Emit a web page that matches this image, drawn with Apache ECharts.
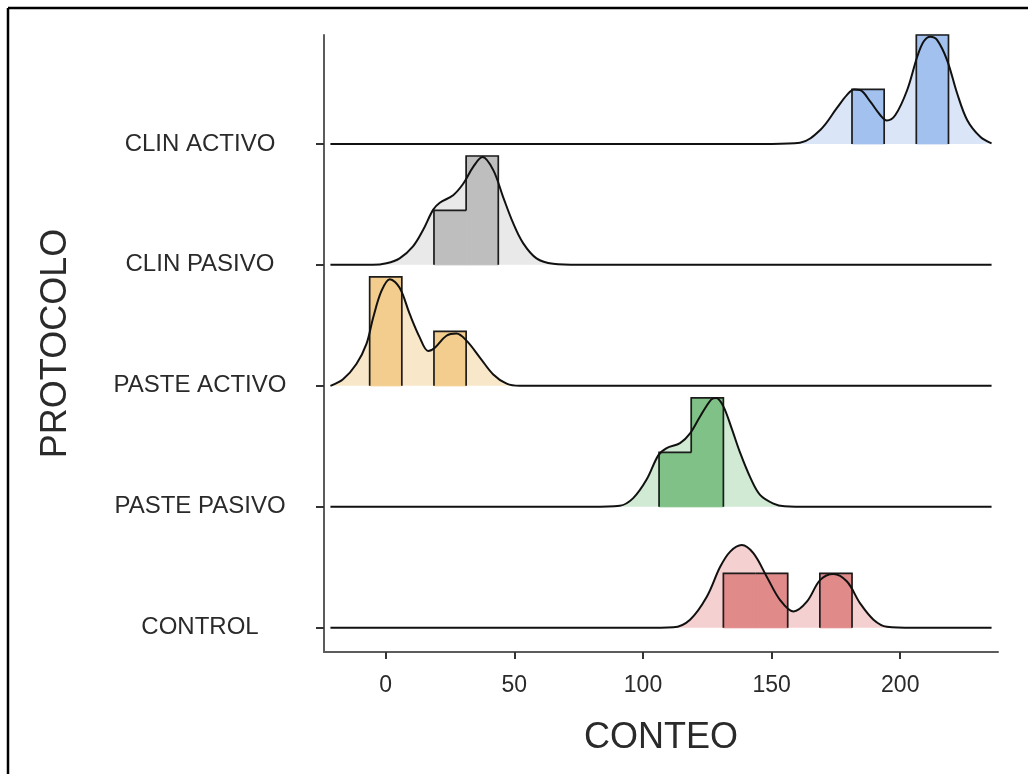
<!DOCTYPE html>
<html><head><meta charset="utf-8">
<script src="https://cdn.jsdelivr.net/npm/echarts@6/dist/echarts.min.js"></script>
<style>html,body{margin:0;padding:0;background:#fff}#c{width:1036px;height:774px}</style>
</head><body><div id="c"></div>
<script>
// ---- data ----
const categories = ['CONTROL', 'PASTE PASIVO', 'PASTE ACTIVO', 'CLIN PASIVO', 'CLIN ACTIVO'];
const xTicks = [0, 50, 100, 150, 200];
const yTicks = [0, 1, 2, 3, 4];

// histogram bins: [start, end, count]
const binsControl = [[131.25, 143.75, 1], [143.75, 156.25, 1], [168.75, 181.25, 1]];
const binsPastePasivo = [[106.25, 118.75, 1], [118.75, 131.25, 2]];
const binsPasteActivo = [[-6.25, 6.25, 2], [18.75, 31.25, 1]];
const binsClinPasivo = [[18.75, 31.25, 1], [31.25, 43.75, 2]];
const binsClinActivo = [[181.25, 193.75, 1], [206.25, 218.75, 2]];

// density curves: [x, height in count units]
const densControl = [[-21.5, 0], [100, 0], [111.8, 0.01], [118.3, 0.15], [124.8, 0.57], [130, 1.12], [133.9, 1.4], [138.4, 1.52], [142.9, 1.37], [148.1, 0.94], [153.3, 0.51], [158.5, 0.3], [163.7, 0.48], [168.9, 0.88], [174, 0.99], [179.3, 0.85], [184.4, 0.45], [189.6, 0.15], [194.8, 0.02], [205, 0], [235.5, 0]];
const densPastePasivo = [[-21.5, 0], [80, 0], [91, 0.02], [96.2, 0.16], [101.4, 0.5], [106, 0.95], [109.2, 1.08], [114.4, 1.17], [118.3, 1.35], [122.2, 1.66], [126.5, 1.97], [128.5, 2.0], [131.2, 1.85], [134.4, 1.45], [137.7, 1.0], [141.6, 0.55], [145.5, 0.22], [150.7, 0.06], [155, 0.01], [165, 0], [235.5, 0]];
const densPasteActivo = [[-21.5, 0], [-16.6, 0.12], [-11.4, 0.4], [-7.5, 0.77], [-4.9, 1.25], [-1.7, 1.74], [1.6, 1.96], [5.4, 1.8], [9.3, 1.32], [13.2, 0.89], [16.5, 0.64], [19.1, 0.7], [23.6, 0.92], [27.5, 0.96], [31.4, 0.83], [36.6, 0.52], [41.8, 0.21], [47, 0.04], [52, 0], [235.5, 0]];
const densClinPasivo = [[-21.5, 0], [-5, 0], [0.3, 0.03], [5.4, 0.12], [10.6, 0.34], [14.5, 0.64], [18.4, 1.01], [21, 1.14], [26.2, 1.28], [30.1, 1.49], [34, 1.8], [37.6, 1.98], [41.8, 1.74], [45.6, 1.25], [49.5, 0.77], [53.4, 0.4], [58.6, 0.12], [65.1, 0.02], [75, 0], [235.5, 0]];
const densClinActivo = [[-21.5, 0], [150, 0], [161, 0.02], [169, 0.26], [175.4, 0.66], [179.3, 0.9], [182, 1.0], [184.4, 0.99], [188.3, 0.78], [192.2, 0.53], [194.8, 0.43], [198.1, 0.53], [202.7, 0.99], [206.6, 1.6], [209.1, 1.88], [211.7, 1.97], [214.3, 1.91], [218.2, 1.54], [222.1, 0.93], [226, 0.44], [231.1, 0.13], [235.5, 0.01]];

const barColors = ['#e08a8a', '#80c187', '#f2cd8e', '#bebebe', '#a3c1ef'];
const areaColors = ['#f5d0d0', '#d1ead3', '#f9e7c9', '#e9e9e9', '#dae6f8'];

// ---- chart ----
const ROW_SCALE = 0.45;
const binsList = [binsControl, binsPastePasivo, binsPasteActivo, binsClinPasivo, binsClinActivo];
const densList = [densControl, densPastePasivo, densPasteActivo, densClinPasivo, densClinActivo];
const FONT = 'Liberation Sans, Arial, sans-serif';
const series = [];
categories.forEach((name, i) => {
  const bins = binsList[i];
  const pts = densList[i].map(p => [p[0], i + p[1] * ROW_SCALE]);
  series.push({
    type: 'line', name: name + ' area', data: pts, smooth: 0.35, symbol: 'none', silent: true,
    lineStyle: { width: 0, opacity: 0 },
    areaStyle: { color: areaColors[i], opacity: 1, origin: i }, z: 1
  });
  series.push({
    type: 'custom', name: name + ' hist', data: bins, silent: true, z: 2,
    encode: { x: [0, 1], y: 2 },
    renderItem: function (params, api) {
      const k = params.dataIndex;
      const x0 = api.value(0), x1 = api.value(1), c = api.value(2);
      const prev = (k > 0 && Math.abs(bins[k - 1][1] - x0) < 1e-9) ? bins[k - 1][2] : 0;
      const next = (k < bins.length - 1 && Math.abs(bins[k + 1][0] - x1) < 1e-9) ? bins[k + 1][2] : 0;
      const bl = api.coord([x0, i]);
      const tr = api.coord([x1, i + c * ROW_SCALE]);
      const yPrev = api.coord([x0, i + prev * ROW_SCALE])[1];
      const yNext = api.coord([x1, i + next * ROW_SCALE])[1];
      const children = [{
        type: 'rect',
        shape: { x: bl[0], y: tr[1], width: tr[0] - bl[0], height: bl[1] - tr[1] },
        style: { fill: barColors[i], stroke: barColors[i], lineWidth: 1 }
      }];
      const outline = [];
      if (c > prev) outline.push([bl[0], yPrev]);
      outline.push([bl[0], tr[1]]);
      outline.push([tr[0], tr[1]]);
      if (c > next) outline.push([tr[0], yNext]);
      children.push({
        type: 'polyline', shape: { points: outline }, z2: 10,
        style: { fill: null, stroke: '#1c1c1c', lineWidth: 1.7 }
      });
      return { type: 'group', children: children };
    }
  });
  series.push({
    type: 'line', name: name, data: pts, smooth: 0.35, symbol: 'none', silent: true,
    lineStyle: { color: '#111', width: 2 }, z: 3
  });
});

const chart = echarts.init(document.getElementById('c'));
chart.setOption({
  animation: false,
  backgroundColor: '#fff',
  grid: { left: 324, right: 38, top: 35, bottom: 122, containLabel: false },
  xAxis: {
    type: 'value', min: -24, max: 238,
    axisLine: { show: true, onZero: false, lineStyle: { color: '#5c5c5c', width: 2 } },
    axisTick: { show: true, customValues: xTicks, length: 7, lineStyle: { color: '#333', width: 2 } },
    axisLabel: { customValues: xTicks, margin: 22, fontSize: 23, color: '#2a2a2a', fontFamily: FONT },
    splitLine: { show: false },
    name: 'CONTEO', nameLocation: 'middle', nameGap: 68,
    nameTextStyle: { fontSize: 36, color: '#2a2a2a', fontFamily: FONT }
  },
  yAxis: {
    type: 'value', min: -0.2, max: 4.9,
    axisLine: { show: true, onZero: false, lineStyle: { color: '#5c5c5c', width: 2 } },
    axisTick: { show: true, customValues: yTicks, length: 8, lineStyle: { color: '#333', width: 2 } },
    axisLabel: {
      customValues: yTicks, formatter: v => categories[Math.round(v)],
      align: 'center', margin: 124, fontSize: 24, color: '#2a2a2a', fontFamily: FONT
    },
    splitLine: { show: false },
    name: 'PROTOCOLO', nameLocation: 'middle', nameGap: 250,
    nameTextStyle: { fontSize: 36, color: '#2a2a2a', fontFamily: FONT }
  },
  graphic: [
    { type: 'line', shape: { x1: 8, y1: 8, x2: 1028, y2: 8 }, style: { stroke: '#000', lineWidth: 2.5 } },
    { type: 'line', shape: { x1: 8, y1: 8, x2: 8, y2: 774 }, style: { stroke: '#000', lineWidth: 2.5 } }
  ],
  series: series
});
</script>
</body></html>
